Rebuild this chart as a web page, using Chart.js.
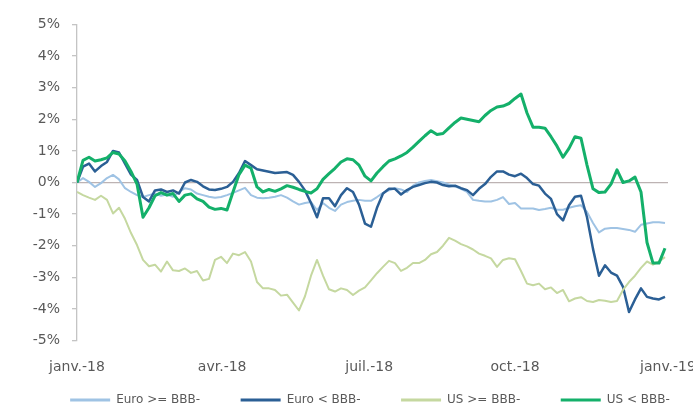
<!DOCTYPE html>
<html>
<head>
<meta charset="utf-8">
<script src="https://cdn.jsdelivr.net/npm/chart.js@4.4.0/dist/chart.umd.min.js"></script>
<style>
html, body { margin: 0; padding: 0; overflow: hidden; background: #fff; }
#wrap { width: 720px; height: 409px; }
</style>
</head>
<body>
<div id="wrap"><canvas id="myChart"></canvas></div>
<script>
// Séries (variation en %), un point tous les ~3,7 jours sur 2018
const euroHigh = [0, 0.14, 0.02, -0.14, -0.02, 0.14, 0.24, 0.1, -0.18, -0.3,
  -0.4, -0.46, -0.4, -0.35, -0.42, -0.38, -0.45, -0.3, -0.18, -0.22,
  -0.35, -0.4, -0.45, -0.48, -0.46, -0.4, -0.33, -0.25, -0.17, -0.4,
  -0.48, -0.5, -0.48, -0.45, -0.4, -0.48, -0.6, -0.7, -0.65, -0.62,
  -0.87, -0.65, -0.8, -0.9, -0.7, -0.62, -0.58, -0.55, -0.58, -0.58,
  -0.46, -0.33, -0.25, -0.18, -0.22, -0.3, -0.1, 0, 0.05, 0.08,
  0.04, 0, -0.06, -0.12, -0.2, -0.3, -0.55, -0.58, -0.6, -0.6,
  -0.55, -0.46, -0.68, -0.65, -0.82, -0.82, -0.82, -0.87, -0.84, -0.8,
  -0.86, -0.86, -0.8, -0.75, -0.72, -0.93, -1.28, -1.58, -1.46, -1.44,
  -1.44, -1.47, -1.5, -1.56, -1.34, -1.3, -1.26, -1.26, -1.28];

const euroLow = [0, 0.5, 0.6, 0.35, 0.52, 0.65, 1.0, 0.95, 0.6, 0.25,
  0.08, -0.46, -0.6, -0.25, -0.22, -0.3, -0.25, -0.35, 0, 0.08,
  0.02, -0.12, -0.22, -0.24, -0.2, -0.14, 0.02, 0.3, 0.68, 0.55,
  0.42, 0.38, 0.34, 0.3, 0.32, 0.33, 0.24, 0.02, -0.25, -0.65,
  -1.1, -0.5, -0.5, -0.75, -0.4, -0.18, -0.3, -0.7, -1.3, -1.4,
  -0.8, -0.35, -0.2, -0.2, -0.38, -0.24, -0.14, -0.08, -0.02, 0.02,
  0, -0.08, -0.12, -0.1, -0.18, -0.24, -0.4, -0.2, -0.05, 0.18,
  0.35, 0.35, 0.25, 0.2, 0.28, 0.14, -0.05, -0.1, -0.35, -0.52,
  -1.0, -1.2, -0.72, -0.45, -0.42, -1.1, -2.1, -2.95, -2.62, -2.85,
  -2.95, -3.3, -4.1, -3.7, -3.35, -3.62, -3.67, -3.7, -3.62];

const usHigh = [-0.3, -0.4, -0.48, -0.55, -0.42, -0.55, -0.98, -0.8, -1.15, -1.6,
  -1.98, -2.45, -2.65, -2.6, -2.82, -2.5, -2.78, -2.8, -2.72, -2.86,
  -2.8, -3.1, -3.05, -2.45, -2.35, -2.55, -2.25, -2.3, -2.2, -2.5,
  -3.15, -3.35, -3.35, -3.4, -3.58, -3.55, -3.8, -4.05, -3.6, -2.95,
  -2.45, -2.95, -3.38, -3.45, -3.35, -3.4, -3.56, -3.42, -3.32, -3.1,
  -2.87, -2.67, -2.48, -2.55, -2.8, -2.7, -2.55, -2.55, -2.45, -2.27,
  -2.2, -2.0, -1.75, -1.84, -1.95, -2.02, -2.12, -2.25, -2.32, -2.4,
  -2.67, -2.45, -2.4, -2.43, -2.8, -3.2, -3.25, -3.2, -3.38, -3.32,
  -3.5, -3.4, -3.76, -3.67, -3.63, -3.75, -3.78, -3.72, -3.74, -3.78,
  -3.75, -3.4, -3.15, -2.95, -2.7, -2.5, -2.6, -2.5, -2.36];

const usLow = [0, 0.7, 0.8, 0.68, 0.72, 0.78, 0.95, 0.9, 0.68, 0.35,
  -0.05, -1.1, -0.8, -0.42, -0.32, -0.4, -0.35, -0.6, -0.4, -0.36,
  -0.52, -0.6, -0.78, -0.85, -0.82, -0.87, -0.3, 0.25, 0.55, 0.45,
  -0.14, -0.3, -0.22, -0.28, -0.2, -0.1, -0.15, -0.22, -0.28, -0.33,
  -0.2, 0.1, 0.28, 0.45, 0.65, 0.75, 0.72, 0.55, 0.2, 0.05,
  0.3, 0.5, 0.68, 0.75, 0.84, 0.95, 1.12, 1.3, 1.48, 1.64,
  1.52, 1.55, 1.73, 1.9, 2.04, 2.0, 1.96, 1.92, 2.12, 2.28,
  2.39, 2.42, 2.5, 2.66, 2.8, 2.2, 1.75, 1.75, 1.72, 1.45,
  1.15, 0.8, 1.08, 1.45, 1.4, 0.55, -0.2, -0.32, -0.3, -0.05,
  0.4, 0.0, 0.05, 0.17, -0.3, -1.9, -2.55, -2.55, -2.08];

// Étiquettes de l'axe horizontal (début de chaque trimestre)
const tickPos = [0, 24.2, 48.7, 73, 98.5];
const tickLabels = ["janv.-18", "avr.-18", "juil.-18", "oct.-18", "janv.-19"];

const gris = "#595959";
const policeAxe = { family: "DejaVu Sans", size: 14 };
const policeLegende = { family: "DejaVu Sans", size: 12 };
const espaceLegende = "        ";

function points(serie) {
    return serie.map(function (v, i) { return { x: i, y: v }; });
}

// légende centrée sous la zone de tracé
const decalageLegende = {
    id: "decalageLegende",
    afterLayout: function (chart) {
        chart.legend.left += 36;
        chart.legend.right += 36;
    },
};

// ordre inversé : la première série est dessinée au-dessus
const data = {
    datasets: [
        { label: "US < BBB-", data: points(usLow), borderColor: "#14b06a", backgroundColor: "#14b06a", borderWidth: 3 },
        { label: "US >= BBB-", data: points(usHigh), borderColor: "#c5d8a0", backgroundColor: "#c5d8a0", borderWidth: 2 },
        { label: "Euro < BBB-", data: points(euroLow), borderColor: "#2b5f95", backgroundColor: "#2b5f95", borderWidth: 2.5 },
        { label: "Euro >= BBB-", data: points(euroHigh), borderColor: "#9fc3e4", backgroundColor: "#9fc3e4", borderWidth: 2 },
    ],
};

const config = {
    type: "line",
    data: data,
    plugins: [decalageLegende],
    options: {
        responsive: true,
        maintainAspectRatio: false,
        animation: false,
        layout: { padding: { left: 0, right: 52, top: 24.5, bottom: 0 } },
        elements: {
            point: { radius: 0 },
            line: { tension: 0, borderJoinStyle: "round" },
        },
        plugins: {
            tooltip: { enabled: false },
            legend: {
                position: "bottom",
                reverse: true,
                maxHeight: 25,
                labels: {
                    boxWidth: 40,
                    boxHeight: 3,
                    padding: 10,
                    color: gris,
                    font: policeLegende,
                    generateLabels: function (chart) {
                        return Chart.defaults.plugins.legend.labels.generateLabels(chart).map(function (l, i) {
                            l.lineWidth = 0;
                            if (i > 0) l.text = l.text + espaceLegende; // i = 0 : dernière série affichée
                            return l;
                        });
                    },
                },
            },
        },
        scales: {
            x: {
                type: "linear",
                min: 0,
                max: 98.5,
                grid: { display: false, drawTicks: false },
                border: { display: false },
                afterBuildTicks: function (axis) {
                    axis.ticks = tickPos.map(function (v) { return { value: v }; });
                },
                afterFit: function (axis) { axis.height = 43.5; },
                ticks: {
                    autoSkip: false,
                    maxRotation: 0,
                    padding: 18,
                    color: gris,
                    font: policeAxe,
                    callback: function (value, index) { return tickLabels[index]; },
                },
            },
            y: {
                min: -5,
                max: 5,
                afterFit: function (axis) { axis.width = 77; },
                grid: {
                    color: function (c) { return c.tick && c.tick.value === 0 ? "#bdb3b3" : "rgba(0,0,0,0)"; },
                    lineWidth: 1.3,
                    tickColor: "#c4c4c4",
                    tickLength: 5,
                },
                border: { display: true, color: "#c4c4c4", width: 1.3 },
                ticks: {
                    stepSize: 1,
                    padding: 12,
                    color: gris,
                    font: policeAxe,
                    callback: function (v) { return v + "%"; },
                },
            },
        },
    },
};

const myChart = new Chart(document.getElementById("myChart"), config);
</script>
</body>
</html>
